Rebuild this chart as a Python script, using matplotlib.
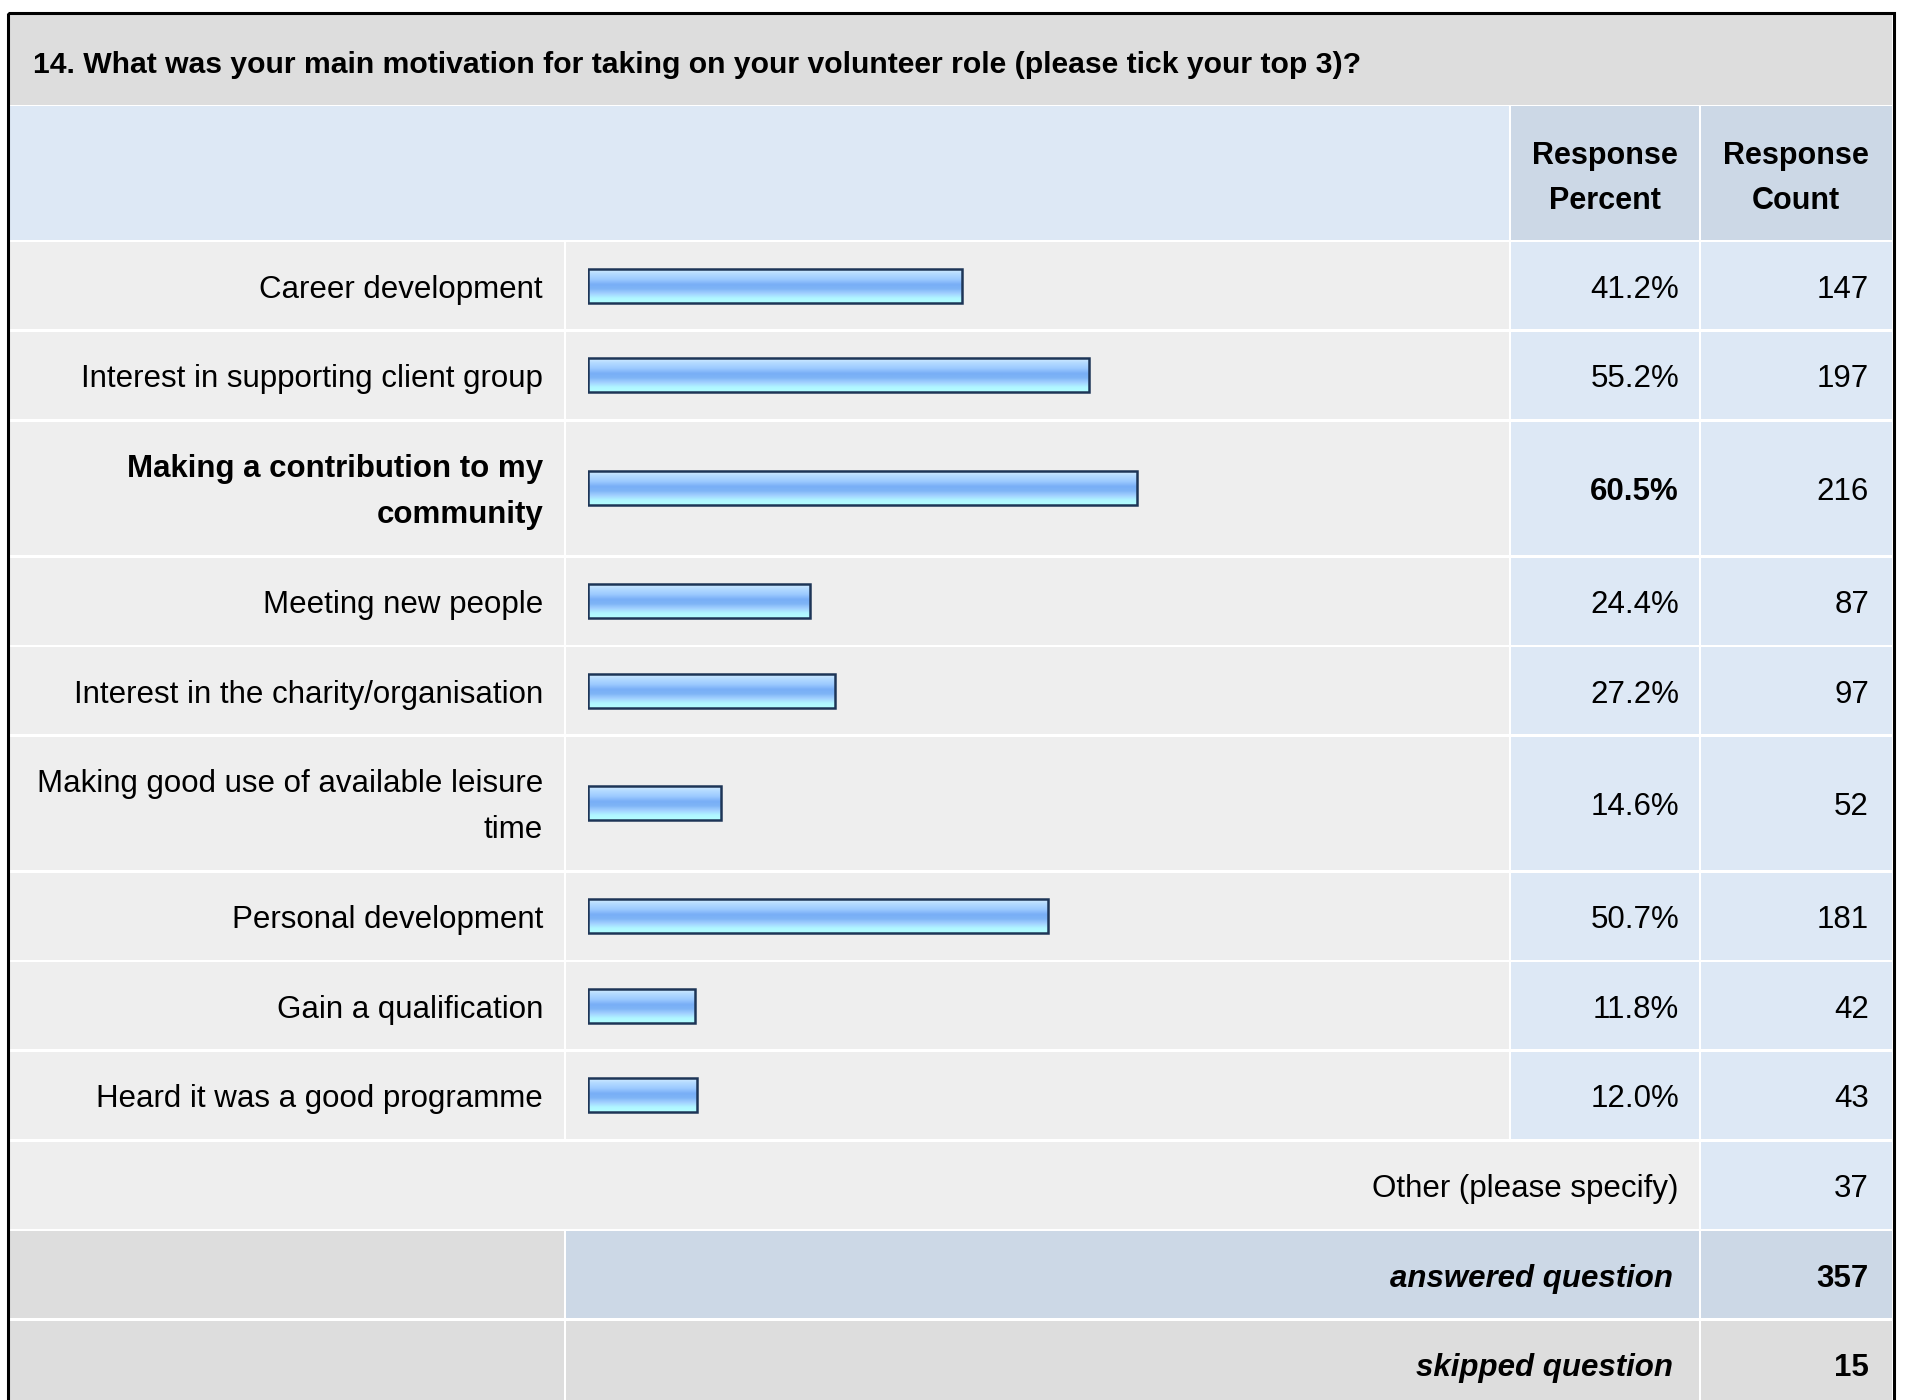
import matplotlib
matplotlib.use("Agg")
import matplotlib.pyplot as plt
from matplotlib.patches import Rectangle
from matplotlib.colors import LinearSegmentedColormap
import numpy as np

# ---------------- data ----------------
title = "14. What was your main motivation for taking on your volunteer role (please tick your top 3)?"
categories = [
    "Career development",
    "Interest in supporting client group",
    "Making a contribution to my\ncommunity",
    "Meeting new people",
    "Interest in the charity/organisation",
    "Making good use of available leisure\ntime",
    "Personal development",
    "Gain a qualification",
    "Heard it was a good programme",
]
percents = [41.2, 55.2, 60.5, 24.4, 27.2, 14.6, 50.7, 11.8, 12.0]
counts = [147, 197, 216, 87, 97, 52, 181, 42, 43]
col_headers = ["Response\nPercent", "Response\nCount"]
other_label = "Other (please specify)"
other_count = 37
summary_labels = ["answered question", "skipped question"]
summary_values = [357, 15]

# ---------------- style / layout ----------------
W, H = 1907, 1400
FONT = "Liberation Sans"
FS = 22.5
C_TITLE = "#dddddd"
C_HEAD = "#dde8f5"
C_HEAD2 = "#ccd8e6"
C_ROW = "#eeeeee"
C_VAL = "#dde8f5"
C_ANS = "#ccd8e6"
C_SKIP = "#dddddd"

X0, X1, X2, X3, X4 = 9, 565, 1510, 1700, 1892
G = 1.3
TITLE_Y = (14.5, 104.5)
HEAD_Y = (106, 240)
ROW_START = 241
H_SINGLE, H_DOUBLE = 89.6, 136.0
BAR_LEFT_PX, BAR_FULL_PX = 588, 908
BAR_H = 34
X_LABEL, X_PCT, X_CNT, X_SUM = 543, 1679, 1869, 1673

fig = plt.figure(figsize=(W / 100, H / 100), dpi=100)
fig.patch.set_facecolor("white")
ax = fig.add_axes([0, 0, 1, 1])
ax.set_xlim(0, W)
ax.set_ylim(H, 0)
ax.axis("off")


def cell(x0, x1, y0, y1, color):
    ax.add_patch(Rectangle((x0, y0), x1 - x0, y1 - y0, facecolor=color,
                           edgecolor="none", zorder=1))


def txt(x, y, s, ha="right", weight="normal", style="normal", size=FS):
    ax.text(x, y, s, ha=ha, va="baseline", fontsize=size, fontweight=weight,
            fontstyle=style, family=FONT, color="black", zorder=5)


def multiline(x, yc, s, ha="right", weight="normal", size=FS, step=46):
    lines = s.split("\n")
    n = len(lines)
    for i, ln in enumerate(lines):
        yb = yc + (i - (n - 1) / 2) * step + 11
        txt(x, yb, ln, ha=ha, weight=weight, size=size)


# title band
cell(X0, X4, TITLE_Y[0], TITLE_Y[1], C_TITLE)
t = ax.text(33, 73, title, ha="left", va="baseline", fontsize=20,
            fontweight="bold", family=FONT, color="black", zorder=5)
fig.canvas.draw()
bb = t.get_window_extent(renderer=fig.canvas.get_renderer())
t.set_fontsize(20 * 1329 / bb.width)

# header
cell(X0, X2 - G, HEAD_Y[0], HEAD_Y[1], C_HEAD)
cell(X2 + G, X3 - G, HEAD_Y[0], HEAD_Y[1], C_HEAD2)
cell(X3 + G, X4, HEAD_Y[0], HEAD_Y[1], C_HEAD2)
for xc, hdr in zip([(X2 + X3) / 2, (X3 + X4) / 2], col_headers):
    for i, ln in enumerate(hdr.split("\n")):
        txt(xc, 164 + 45 * i, ln, ha="center", weight="bold", size=22)

# rows
best = int(np.argmax(percents))
y = ROW_START
centers = []
for i, (lab, p, c) in enumerate(zip(categories, percents, counts)):
    h = H_DOUBLE if "\n" in lab else H_SINGLE
    y0, y1 = y + G, y + h - G
    cell(X0, X1 - G, y0, y1, C_ROW)
    cell(X1 + G, X2 - G, y0, y1, C_ROW)
    cell(X2 + G, X3 - G, y0, y1, C_VAL)
    cell(X3 + G, X4, y0, y1, C_VAL)
    yc = y + h / 2
    centers.append(yc)
    w = "bold" if i == best else "normal"
    multiline(X_LABEL, yc + 1, lab, weight=w)
    txt(X_PCT, yc + 12, f"{p:.1f}%", weight=w)
    txt(X_CNT, yc + 12, f"{c}")
    y += h

# other row
h = H_SINGLE
cell(X0, X3 - G, y + G, y + h - G, C_ROW)
cell(X3 + G, X4, y + G, y + h - G, C_VAL)
txt(X_PCT, y + h / 2 + 12, other_label)
txt(X_CNT, y + h / 2 + 12, f"{other_count}")
y += h

# summary rows
for lab, val, cmid in zip(summary_labels, summary_values, [C_ANS, C_SKIP]):
    cell(X0, X1 - G, y + G, y + h - G, C_SKIP)
    cell(X1 + G, X3 - G, y + G, y + h - G, cmid)
    cell(X3 + G, X4, y + G, y + h - G, cmid)
    txt(X_SUM, y + h / 2 + 12, lab, weight="bold", style="italic")
    txt(X_CNT, y + h / 2 + 12, f"{val}", weight="bold")
    y += h

# outer border
ax.add_patch(Rectangle((7.5, 13), 1886.5, 1500, facecolor="none",
                       edgecolor="black", linewidth=2.2, zorder=6))

# bars
bax = fig.add_axes([BAR_LEFT_PX / W, 0, BAR_FULL_PX / W, 1])
bax.patch.set_alpha(0)
cmap = LinearSegmentedColormap.from_list("glass", [
    (0.0, "#d4ecff"), (0.12, "#b6dcff"), (0.3, "#9ccaff"), (0.45, "#78aef6"),
    (0.58, "#7eb4f6"), (0.72, "#a2d0ff"), (0.86, "#b0f6ff"), (1.0, "#b4ffff")])
grad = np.linspace(0, 1, 64).reshape(-1, 1)
for p, yc in zip(percents, centers):
    bax.imshow(grad, extent=(0, p, yc + BAR_H / 2, yc - BAR_H / 2),
               aspect="auto", cmap=cmap, origin="upper", zorder=2,
               interpolation="bilinear")
bax.barh(centers, percents, height=BAR_H, left=0, facecolor="none",
         edgecolor="#1d3557", linewidth=1.8, zorder=3)
bax.set_xlim(0, 100)
bax.set_ylim(H, 0)
bax.axis("off")

fig.savefig("out.png", dpi=100, facecolor="white")
